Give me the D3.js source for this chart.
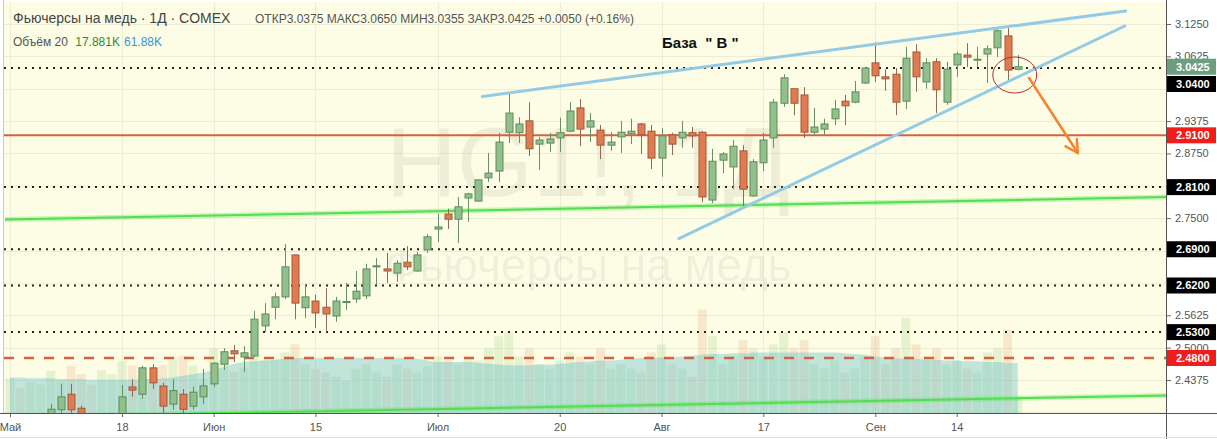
<!DOCTYPE html>
<html><head><meta charset="utf-8">
<script src="https://cdn.jsdelivr.net/npm/d3@7"></script>
<style>
body{margin:0;background:#fff}
svg{display:block;font-family:"Liberation Sans",Arial,sans-serif}
</style></head>
<body><svg id="c" width="1217" height="439"></svg>
<script>
// ---------- DATA ----------
const holidays = ["2020-05-25","2020-07-03","2020-09-07"];
const open  = [2.345,2.350,2.340,2.352,2.362,2.380,2.410,2.383,2.360,2.352,
2.358,2.365,2.424,2.410,2.461,2.426,2.391,2.410,2.387,2.405,
2.430,2.468,2.494,2.482,2.484,2.542,2.578,2.598,2.679,2.577,
2.590,2.578,2.561,2.588,2.594,2.600,2.657,2.652,2.644,2.665,
2.648,2.689,2.729,2.758,2.748,2.789,2.783,2.828,2.841,2.916,
2.915,2.938,2.893,2.895,2.905,2.918,2.963,2.926,2.920,2.891,
2.907,2.913,2.932,2.918,2.866,2.911,2.905,2.915,2.916,2.785,
2.862,2.849,2.880,2.793,2.857,2.905,2.972,3.000,2.988,2.916,
2.922,2.942,2.976,2.974,3.011,3.050,3.023,3.028,2.976,3.071,
3.013,3.052,2.974,3.046,3.065,3.056,3.067,3.079,3.102,3.0375];
const high  = [2.365,2.368,2.360,2.368,2.391,2.430,2.430,2.388,2.373,2.368,
2.374,2.428,2.439,2.465,2.468,2.432,2.439,2.420,2.425,2.459,
2.472,2.499,2.505,2.503,2.571,2.586,2.606,2.700,2.680,2.623,
2.602,2.615,2.598,2.625,2.648,2.662,2.673,2.683,2.669,2.696,
2.685,2.719,2.758,2.768,2.791,2.799,2.825,2.876,2.915,2.992,
2.945,2.974,2.907,2.915,2.944,2.974,2.980,2.953,2.930,2.916,
2.938,2.942,2.934,2.930,2.924,2.915,2.938,2.926,2.918,2.884,
2.878,2.901,2.891,2.864,2.915,2.980,3.028,3.000,3.003,2.963,
2.942,2.978,2.988,3.015,3.042,3.090,3.038,3.040,3.081,3.086,
3.059,3.059,3.052,3.071,3.088,3.081,3.084,3.115,3.117,3.065];
const low   = [2.330,2.335,2.325,2.340,2.355,2.370,2.370,2.350,2.345,2.340,
2.345,2.360,2.405,2.401,2.420,2.370,2.380,2.370,2.380,2.391,
2.424,2.457,2.472,2.453,2.482,2.530,2.555,2.594,2.555,2.557,
2.538,2.530,2.550,2.573,2.586,2.594,2.621,2.625,2.627,2.650,
2.646,2.683,2.704,2.729,2.702,2.743,2.782,2.820,2.820,2.895,
2.895,2.870,2.843,2.878,2.878,2.916,2.889,2.897,2.864,2.880,
2.876,2.893,2.874,2.845,2.830,2.872,2.886,2.886,2.781,2.779,
2.837,2.806,2.772,2.791,2.841,2.886,2.965,2.949,2.905,2.911,
2.911,2.930,2.930,2.972,3.009,3.013,2.996,2.949,2.961,2.994,
3.000,2.953,2.969,3.023,3.042,3.042,3.011,3.061,3.013,3.0355];
const close = [2.355,2.340,2.352,2.362,2.381,2.405,2.380,2.360,2.352,2.360,
2.366,2.405,2.418,2.461,2.432,2.387,2.417,2.381,2.414,2.426,
2.470,2.492,2.488,2.490,2.555,2.565,2.598,2.656,2.586,2.598,
2.567,2.565,2.590,2.589,2.609,2.652,2.658,2.648,2.663,2.656,
2.679,2.714,2.733,2.748,2.772,2.797,2.824,2.837,2.897,2.953,
2.932,2.884,2.901,2.903,2.915,2.957,2.922,2.938,2.891,2.897,
2.916,2.918,2.911,2.866,2.909,2.893,2.916,2.909,2.791,2.860,
2.874,2.889,2.806,2.859,2.901,2.974,3.021,2.972,2.916,2.926,
2.932,2.961,2.967,2.994,3.040,3.025,3.019,2.974,3.059,3.023,
3.050,2.998,3.038,3.067,3.061,3.057,3.077,3.112,3.036,3.0425];
const volume = [43,31,38,35,52,41,58,48,35,53,
48,64,59,47,41,59,69,71,59,43,
80,66,51,56,71,66,66,75,85,60,
55,50,45,40,55,60,50,45,60,55,
50,58,70,65,60,70,65,80,95,100,
70,80,60,55,65,75,70,60,80,55,
60,55,50,75,85,60,55,45,128,95,
60,70,90,80,70,85,100,80,90,60,
55,65,50,55,70,95,60,80,118,85,
70,80,60,65,55,50,75,80,103,17.881];
const volumeMA = [44,44,43,43,43,42,42,42,41,41,
41,41,41,42,42,43,44,46,48,50,
53,57,61,63,64,65,66,67,68,68,
68,68,68,68,68,68,68,68,68,68,
67,65,63,63,63,63,62,61,60,59,
59,59,60,60,61,62,63,64,65,65,
66,67,68,68,69,69,70,71,72,73,
73,74,74,75,75,75,75,75,75,75,
75,75,74,73,72,70,69,68,67,67,
66,66,65,65,64,64,63,63,62,61.88];
const gridTicks  = [3.125,3.0625,3.0,2.9375,2.875,2.8125,2.75,2.6875,2.625,2.5625,2.5,2.4375,2.375];
const priceTicks = [3.125,3.0625,2.9375,2.875,2.75,2.5625,2.5,2.4375];
const timeTickDates  = ["2020-05-01","2020-05-18","2020-06-01","2020-06-15","2020-07-01","2020-07-20","2020-08-03","2020-08-17","2020-09-01","2020-09-14"];
const timeTickLabels = ["Май","18","Июн","15","Июл","20","Авг","17","Сен","14"];
const dottedLevels = [3.04, 2.81, 2.69, 2.62, 2.53];
const redLevel = 2.91;
const dashedLevel = 2.48;
const lastClose = 3.0425;
// drawings (bar index, price)
const greenLines = [[[-0.49,2.7474],[113.6,2.7909]], [[-0.49,2.366],[113.6,2.4075]]];
const blueLines  = [[[46.4,2.985],[109.6,3.150]], [[65.7,2.7107],[109.5,3.1211]]];
const ellipse = {i:98.7, p:3.0265, di:2.16, dp:0.0348};
const arrow = [[100.1,3.0207],[104.9,2.8759]];
const note = {i:64.05, p:3.0786, text:"База  \" В \""};

// ---------- SETUP ----------
const fmtDay = d3.timeFormat("%Y-%m-%d");
const dates = d3.timeDay.range(new Date(2020,4,1), new Date(2020,8,23))
  .filter(d => d.getDay()!==0 && d.getDay()!==6 && !holidays.includes(fmtDay(d)));
const keys = dates.map(fmtDay);
const bars = keys.map((k,i)=>({k,i,o:open[i],h:high[i],l:low[i],c:close[i],v:volume[i],ma:volumeMA[i]}));

const L=4, R=1166, T=2, B=413;
const svg = d3.select("#c");
const x = d3.scaleLinear().domain([0, keys.length-1]).range([10, 10+(keys.length-1)*10.18]);
const y = d3.scaleLinear().domain([2.4375, 3.125]).range([380, 24]);
const yv = d3.scaleLinear().domain([0, 61.88]).range([B, 363]);

svg.append("rect").attr("width",1217).attr("height",439).attr("fill","#fff");
svg.append("defs").append("clipPath").attr("id","clip").append("rect")
  .attr("x",L).attr("y",T).attr("width",R-L).attr("height",B-T);
svg.append("rect").attr("x",L).attr("y",T).attr("width",R-L).attr("height",B-T).attr("fill","#fdfde6");

const g = svg.append("g").attr("clip-path","url(#clip)");
// grid
g.selectAll(".hg").data(gridTicks).join("line")
  .attr("x1",L).attr("x2",R).attr("y1",d=>Math.round(y(d))+0.5).attr("y2",d=>Math.round(y(d))+0.5)
  .attr("stroke","#ecedd6").attr("stroke-width",1);
g.selectAll(".vg").data(timeTickDates).join("line")
  .attr("x1",d=>Math.round(x(keys.indexOf(d)))+0.5).attr("x2",d=>Math.round(x(keys.indexOf(d)))+0.5)
  .attr("y1",T).attr("y2",B).attr("stroke","#ecedd6");

// watermark
const cx = (L+R)/2 + 3;
g.append("text").attr("x",cx).attr("y",196).attr("text-anchor","middle")
  .attr("font-size",98).attr("fill","rgba(60,60,40,0.075)").text("HG1!, 1Д");
g.append("text").attr("x",cx).attr("y",281).attr("text-anchor","middle")
  .attr("font-size",46).attr("fill","rgba(60,60,40,0.075)").text("Фьючерсы на медь");

// volume bars
g.selectAll(".vb").data(bars).join("rect")
  .attr("x",d=>x(d.i)-4.5).attr("width",9)
  .attr("y",d=>yv(d.v)).attr("height",d=>B-yv(d.v))
  .attr("fill",d=>d.c>=d.o?"rgba(150,205,120,0.22)":"rgba(225,150,100,0.2)");
// volume MA area
g.append("path").datum(bars)
  .attr("d", d3.area().x(d=>x(d.i)).y0(B).y1(d=>yv(d.ma)).curve(d3.curveMonotoneX))
  .attr("fill","rgba(110,195,205,0.42)");

// horizontal levels
g.selectAll(".dl").data(dottedLevels).join("line")
  .attr("x1",L).attr("x2",R).attr("y1",d=>y(d)).attr("y2",d=>y(d))
  .attr("stroke","#222").attr("stroke-width",2).attr("stroke-dasharray","2,5");
g.append("line").attr("x1",L).attr("x2",R).attr("y1",y(redLevel)).attr("y2",y(redLevel))
  .attr("stroke","#d4623e").attr("stroke-width",2);
g.append("line").attr("x1",L).attr("x2",R).attr("y1",y(dashedLevel)).attr("y2",y(dashedLevel))
  .attr("stroke","#d4623e").attr("stroke-width",2.5).attr("stroke-dasharray","10,10");

// green lines with glow
greenLines.forEach(ln=>{
  g.append("line").attr("x1",x(ln[0][0])).attr("y1",y(ln[0][1])).attr("x2",x(ln[1][0])).attr("y2",y(ln[1][1]))
    .attr("stroke","rgba(90,230,90,0.35)").attr("stroke-width",5);
  g.append("line").attr("x1",x(ln[0][0])).attr("y1",y(ln[0][1])).attr("x2",x(ln[1][0])).attr("y2",y(ln[1][1]))
    .attr("stroke","#55dd4f").attr("stroke-width",2);
});

// candles
const up = d=>d.c>=d.o;
const cg = g.append("g");
cg.selectAll(".wk").data(bars).join("line")
  .attr("x1",d=>Math.round(x(d.i))+0.5).attr("x2",d=>Math.round(x(d.i))+0.5)
  .attr("y1",d=>y(d.h)).attr("y2",d=>y(d.l))
  .attr("stroke",d=>up(d)?"#6a8f66":"#8f6a55").attr("stroke-width",1);
cg.selectAll(".bd").data(bars).join("rect")
  .attr("x",d=>Math.round(x(d.i))-3).attr("width",7)
  .attr("y",d=>y(Math.max(d.o,d.c))).attr("height",d=>Math.max(1,Math.abs(y(d.o)-y(d.c))))
  .attr("fill",d=>up(d)?"#92c08c":"#e07a50")
  .attr("stroke",d=>up(d)?"#5d8c59":"#a4583a").attr("stroke-width",1);

// blue lines
blueLines.forEach(ln=>{
  g.append("line").attr("x1",x(ln[0][0])).attr("y1",y(ln[0][1])).attr("x2",x(ln[1][0])).attr("y2",y(ln[1][1]))
    .attr("stroke","#92cbe6").attr("stroke-width",3).attr("stroke-linecap","round");
});
// ellipse
g.append("ellipse").attr("cx",x(ellipse.i)).attr("cy",y(ellipse.p))
  .attr("rx",x(ellipse.di)-x(0)).attr("ry",y(0)-y(ellipse.dp))
  .attr("fill","none").attr("stroke","#c0282d").attr("stroke-width",1);
// arrow
const ax1=x(arrow[0][0]), ay1=y(arrow[0][1]), ax2=x(arrow[1][0]), ay2=y(arrow[1][1]);
g.append("line").attr("x1",ax1).attr("y1",ay1).attr("x2",ax2).attr("y2",ay2)
  .attr("stroke","#f5842c").attr("stroke-width",2.5).attr("stroke-linecap","round");
const ang = Math.atan2(ay2-ay1, ax2-ax1);
[0.5,-0.5].forEach(da=>{
  g.append("line").attr("x1",ax2).attr("y1",ay2)
    .attr("x2",ax2-14*Math.cos(ang+da)).attr("y2",ay2-14*Math.sin(ang+da))
    .attr("stroke","#f5842c").attr("stroke-width",2.5).attr("stroke-linecap","round");
});
// note
g.append("text").attr("x",x(note.i)).attr("y",y(note.p)).attr("font-size",15)
  .attr("font-weight","bold").attr("fill","#111").attr("xml:space","preserve").style("white-space","pre").text(note.text);

// legend
const lg = svg.append("g");
lg.append("text").attr("x",13).attr("y",23).attr("font-size",14).attr("fill","#444").text("Фьючерсы на медь · 1Д · COMEX");
lg.append("text").attr("x",255).attr("y",23).attr("font-size",12).attr("fill","#555")
  .text("ОТКР3.0375 МАКС3.0650 МИН3.0355 ЗАКР3.0425 +0.0050 (+0.16%)");
const l2 = lg.append("text").attr("x",13).attr("y",46).attr("font-size",12);
l2.append("tspan").attr("fill","#555").text("Объём 20 ");
l2.append("tspan").attr("fill","#2e8b3e").attr("dx",4).text("17.881K");
l2.append("tspan").attr("fill","#3596d8").attr("dx",4).text("61.88K");

// axes
const ra = svg.append("g").attr("transform",`translate(${R},0)`)
  .call(d3.axisRight(y).tickValues(priceTicks).tickFormat(d3.format(".4f")).tickSize(5).tickPadding(4));
ra.select(".domain").remove();
ra.selectAll("line").attr("stroke","#666");
ra.selectAll("text").attr("fill","#555").attr("font-size",11).attr("font-family","Liberation Sans, Arial, sans-serif");
svg.append("line").attr("x1",R+0.5).attr("x2",R+0.5).attr("y1",0).attr("y2",439).attr("stroke","#555");

const ba = svg.append("g").attr("transform",`translate(0,${B})`)
  .call(d3.axisBottom(x).tickValues(timeTickDates.map(d=>keys.indexOf(d)))
    .tickFormat((d,i)=>timeTickLabels[i]).tickSize(4).tickPadding(6));
ba.select(".domain").remove();
ba.selectAll("line").attr("stroke","#666");
ba.selectAll("text").attr("fill","#555").attr("font-size",11).attr("font-family","Liberation Sans, Arial, sans-serif");
svg.append("line").attr("x1",0).attr("x2",1217).attr("y1",B+0.5).attr("y2",B+0.5).attr("stroke","#555");
svg.append("line").attr("x1",0).attr("x2",1217).attr("y1",437.5).attr("y2",437.5).attr("stroke","#ddd");
svg.append("line").attr("x1",L-0.5).attr("x2",L-0.5).attr("y1",0).attr("y2",B).attr("stroke","#ccc");

// price label boxes
const boxes = [
  {v:dashedLevel, fill:"#f21c1c", off:0},
  {v:2.53, fill:"#000", off:0},
  {v:2.62, fill:"#000", off:0},
  {v:2.69, fill:"#000", off:0},
  {v:2.81, fill:"#000", off:0},
  {v:redLevel, fill:"#f21c1c", off:0},
  {v:3.04, fill:"#000", off:16},
  {v:lastClose, fill:"#6c9f80", off:0}
];
const bx = svg.append("g");
boxes.forEach(b=>{
  const cy = y(b.v)+b.off;
  bx.append("rect").attr("x",R+1).attr("y",cy-8).attr("width",1217-R-2).attr("height",16).attr("fill",b.fill);
  bx.append("text").attr("x",R+10).attr("y",cy+4).attr("font-size",11).attr("font-weight","bold")
    .attr("fill","#fff").text(d3.format(".4f")(b.v));
});
</script></body></html>
